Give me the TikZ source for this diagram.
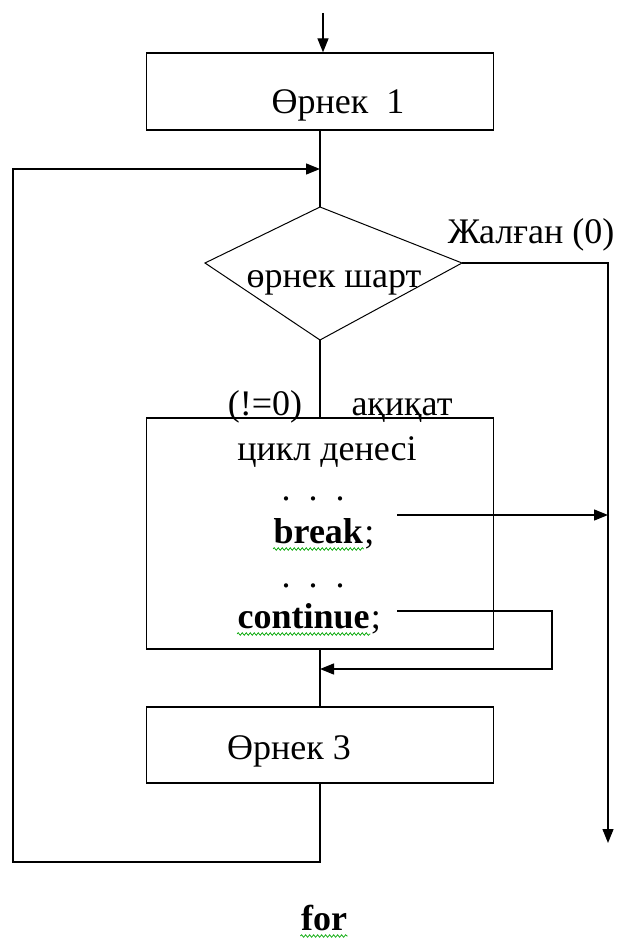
\documentclass[tikz,border=0pt]{standalone}
\usepackage{fontspec}
\setmainfont{Liberation Serif}
\usetikzlibrary{arrows.meta,decorations.pathmorphing}

\begin{document}
\begin{tikzpicture}[x=1pt,y=-1pt,line width=1.3pt,
  box/.style={draw,rectangle,inner sep=0pt,minimum width=347pt},
  lbl/.style={font=\fontsize{36}{36}\selectfont,inner sep=0pt},
  code/.style={font=\bfseries\fontsize{36}{36}\selectfont,inner sep=0pt},
  codereg/.style={font=\fontsize{36}{36}\selectfont,inner sep=0pt},
  arr/.style={-{Triangle[length=14pt,width=11pt]}},
  wavy/.style={draw=green!65!black,line width=0.7pt,decorate,
    decoration={snake,segment length=4pt,amplitude=1.3pt}}]

\useasboundingbox (0,0) rectangle (616,942);

% blocks
\node[box,minimum height=77pt] (e1) at (320,91.5) {};
\node[box,minimum height=231pt] (body) at (320,533.5) {};
\node[box,minimum height=76pt] (e3) at (320,745) {};

% condition diamond
\coordinate (dT) at (320,207);
\coordinate (dR) at (462,263);
\coordinate (dB) at (320,340);
\coordinate (dL) at (205,263);
\draw[line width=1pt] (dT) -- (dR) -- (dB) -- (dL) -- cycle;

% texts
\node[lbl,anchor=base] (t1) at (338,113) {Өрнек\ \ 1};
\node[lbl,anchor=base] (tc) at (334,287) {өрнек шарт};
\node[lbl,anchor=base east] (tf) at (615,243) {Жалған (0)};
\node[lbl,anchor=base] (tne) at (265,415) {(!=0)};
\node[lbl,anchor=base] (tt) at (402,415) {ақиқат};
\node[lbl,anchor=base] (tb) at (327,460) {цикл денесі};
\node[lbl,anchor=base] (d1) at (313,500) {.\ \ .\ \ .};
\node[lbl,anchor=base] (d2) at (313,587) {.\ \ .\ \ .};
\node[code,anchor=base west] (brk) at (273,543) {break};
\node[codereg,anchor=base west] (brks) at (brk.base east) {;};
\node[code,anchor=base west] (cnt) at (237,628) {continue};
\node[codereg,anchor=base west] (cnts) at (cnt.base east) {;};
\node[lbl,anchor=base] (t3) at (289,759) {Өрнек 3};
\node[code,anchor=base] (tfor) at (324,930) {for};

% spell-check underlines
\draw[wavy] ([yshift=-6pt]brk.base west) -- ([yshift=-6pt]brk.base east);
\draw[wavy] ([yshift=-6pt]cnt.base west) -- ([yshift=-6pt]cnt.base east);
\draw[wavy] ([yshift=-6pt]tfor.base west) -- ([yshift=-6pt]tfor.base east);

% connectors
\coordinate (in) at (323,13);
\coordinate (m) at (320,169);
\coordinate (fr) at (608,263);
\coordinate (fend) at (608,843);
\coordinate (bs) at (397,515);
\coordinate (cs) at (397,611);
\coordinate (cc) at (552,611);
\coordinate (cb) at (552,669);
\coordinate (lb) at (13,862);

\draw[arr] (in) -- (in |- e1.north);
\draw (e1.south) -- (dT);
\draw[arr] (dR) -- (fr) -- (fend);
\draw (dB) -- (body.north);
\draw[arr] (bs) -- (bs -| fr);
\draw[arr] (cs) -- (cc) -- (cb) -- (cb -| m);
\draw (body.south) -- (e3.north);
\draw[arr] (e3.south) -- (e3.south |- lb) -- (lb) -- (lb |- m) -- (m);
\end{tikzpicture}
\end{document}
